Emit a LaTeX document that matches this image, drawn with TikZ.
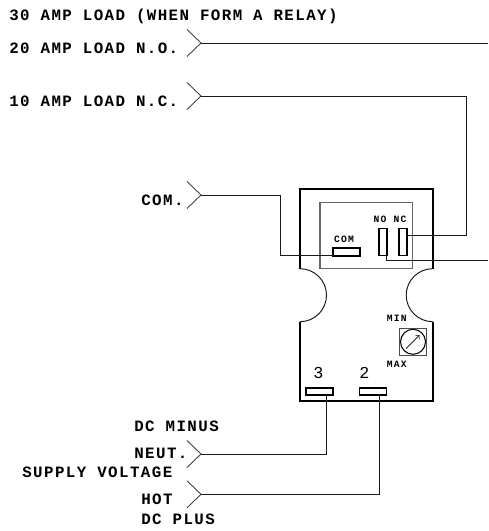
\documentclass[tikz,border=0pt]{standalone}
\usepackage{fontspec}
\usepackage{tikz}
\setmainfont[LetterSpace=9]{Liberation Mono}
\newfontfamily\tinylabel[LetterSpace=12]{Liberation Mono}
\tikzset{
    lbl/.style={anchor=base west, inner sep=0pt, font=\fontsize{9}{9}\selectfont\bfseries},
    numlbl/.style={anchor=base, inner sep=0pt, font=\fontsize{9.5}{9.5}\selectfont},
    tinylbl/.style={anchor=base, inner sep=0pt, font=\tinylabel\fontsize{5.5}{5.5}\selectfont\bfseries},
    terminal/.style={draw=black, line width=1.1pt, inner sep=0pt},
    wire/.style={black!90, line width=0.55pt},
    chevron/.style={black!75, line width=0.5pt},
}
\begin{document}
\begin{tikzpicture}[x=0.02cm, y=-0.02cm]
                \useasboundingbox (0,0) rectangle (488,531);

                %% Housing
                \draw[black, line width=1.25pt] (300,268.7) -- (300,189) -- (432.7,189) -- (432.7,268.7);
                \draw[black, line width=1.25pt] (300,321.7) -- (300,401) -- (432.7,401) -- (432.7,321.7);
                \draw[wire] (300,268.7) arc[start angle=90, end angle=-90, radius=0.53cm];
                \draw[wire] (432.7,268.7) arc[start angle=90, end angle=270, radius=0.53cm];
                \draw[black!60, line width=0.6pt] (320,202.3) rectangle (412.7,268.7);

                %% Terminals
                \node[terminal, minimum width=0.54cm, minimum height=0.15cm] (com) at (346.3,252) {};
                \node[terminal, minimum width=0.15cm, minimum height=0.54cm] (no) at (382.8,242) {};
                \node[terminal, minimum width=0.15cm, minimum height=0.54cm] (nc) at (403,242) {};
                \node[terminal, minimum width=0.54cm, minimum height=0.15cm] (three) at (319.8,391.5) {};
                \node[terminal, minimum width=0.54cm, minimum height=0.15cm] (two) at (373,391.5) {};

                \node[tinylbl] (comlbl) at (344,242.3) {COM};
                \node[tinylbl] (nolbl) at (380,222.3) {NO};
                \node[tinylbl] (nclbl) at (400,222.3) {NC};
                \node[numlbl] (threelbl) at (318.3,378.3) {3};
                \node[numlbl] (twolbl) at (364.3,378.3) {2};

                %% Dial
                \draw[black!70, line width=0.6pt] (399.3,328.3) rectangle (426.7,355.3);
                \node[draw=black, line width=0.6pt, circle, minimum size=0.5cm, inner sep=0pt] (dial) at (413,341.8) {};
                \coordinate (dialfrom) at (406,348.5);
                \coordinate (dialto) at (419.5,335);
                \draw[->, black, line width=0.4pt] (dialfrom) -- (dialto);
                \node[tinylbl] (minlbl) at (396.7,321) {MIN};
                \node[tinylbl] (maxlbl) at (396.7,367.5) {MAX};

                %% Load side
                \node[lbl] (relay) at (9,20) {30 AMP LOAD (WHEN FORM A RELAY)};
                \node[lbl] (nolabel) at (9,53) {20 AMP LOAD N.O.};
                \node[lbl] (nclabel) at (9,106) {10 AMP LOAD N.C.};
                \node[lbl] (comlabel) at (141,205) {COM.};

                \coordinate (tipno) at (201,43);
                \coordinate (tipnc) at (201,96);
                \coordinate (tipcom) at (201,195);
                \coordinate (noend) at (488,43);
                \coordinate (noout) at (488,260.7);
                \coordinate (nopin) at (386,255.7);
                \coordinate (ncpin) at (405.5,235.7);
                \coordinate (compin) at (334,255.6);

                \draw[chevron] (187,29.5) -- (tipno) -- (187,56.5);
                \draw[chevron] (187,82.5) -- (tipnc) -- (187,109.5);
                \draw[chevron] (187,181.5) -- (tipcom) -- (187,208.5);

                \draw[wire] (tipno) -- (noend);
                \draw[wire] (tipnc) -| (466,235.7) -- (ncpin);
                \draw[wire] (tipcom) -| (280,255.6) -- (compin);
                \draw[wire] (nopin) |- (noout);

                %% Supply side
                \node[lbl] (dcminus) at (134,431.7) {DC MINUS};
                \node[lbl] (neut) at (134,458.3) {NEUT.};
                \node[lbl] (supply) at (22,477.7) {SUPPLY VOLTAGE};
                \node[lbl] (hot) at (141,504.3) {HOT};
                \node[lbl] (dcplus) at (141,524.3) {DC PLUS};

                \coordinate (tipneut) at (201,454);
                \coordinate (tiphot) at (201,494.3);
                \coordinate (threepin) at (326.7,395.3);
                \coordinate (twopin) at (379.3,395.3);

                \draw[chevron] (187,440.5) -- (tipneut) -- (187,467.5);
                \draw[chevron] (187,480.8) -- (tiphot) -- (187,507.8);

                \draw[wire] (tipneut) -| (threepin);
                \draw[wire] (tiphot) -| (twopin);

\end{tikzpicture}
\end{document}
